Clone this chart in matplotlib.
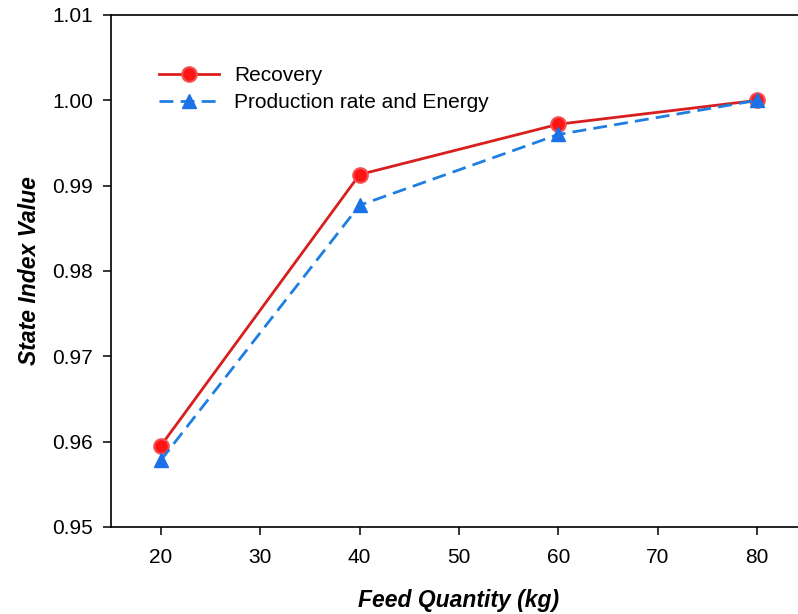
import matplotlib
matplotlib.use("Agg")
import matplotlib.pyplot as plt

feed_quantity = [20, 40, 60, 80]
recovery = [0.9595, 0.9913, 0.9972, 1.0000]
production_energy = [0.9578, 0.9877, 0.9960, 1.0000]
x_ticks = [20, 30, 40, 50, 60, 70, 80]
y_ticks = [0.95, 0.96, 0.97, 0.98, 0.99, 1.00, 1.01]

plt.rcParams["font.family"] = ["Liberation Sans", "DejaVu Sans"]

fig = plt.figure(figsize=(7.98, 6.14), dpi=100)
ax = fig.add_axes([111 / 798, 1 - 527 / 614, (798 - 111) / 798 + 0.01, (527 - 15) / 614])

ax.plot(feed_quantity, recovery, color="#d81e1e", lw=2.0, marker="o",
        markersize=10.5, markerfacecolor="#ff1414", markeredgecolor="#f45050",
        markeredgewidth=1.5, label="Recovery", zorder=3)
ax.plot(feed_quantity, production_energy, color="#1f7fe0", lw=2.0,
        dashes=(5, 2.6), marker="^", markersize=10.5, markerfacecolor="#1a72e6",
        markeredgecolor="#1a72e6", label="Production rate and Energy", zorder=3)

ax.set_xlim(15, 84.9)
ax.set_ylim(0.95, 1.01)
ax.set_xticks(x_ticks)
ax.set_yticks(y_ticks)
ax.set_xticklabels([str(v) for v in x_ticks])
ax.set_yticklabels([f"{v:.2f}" for v in y_ticks])
ax.tick_params(direction="out", length=6, width=1.1, labelsize=15)
ax.tick_params(axis="x", pad=9)
ax.tick_params(axis="y", pad=7)

ax.spines["right"].set_visible(False)
for s in ["left", "bottom", "top"]:
    ax.spines[s].set_linewidth(1.2)

ax.set_xlabel("Feed Quantity (kg)", fontsize=16.5, fontweight="bold", style="italic", labelpad=16)
ax.set_ylabel("State Index Value", fontsize=16.5, fontweight="bold", style="italic", labelpad=8)

ax.legend(loc="upper left", bbox_to_anchor=((159 - 111) / 695, 0.9), frameon=False,
          fontsize=15, handlelength=2.9, handletextpad=0.7, labelspacing=0.37,
          borderpad=0, borderaxespad=0)

fig.savefig("out.png", dpi=100)
